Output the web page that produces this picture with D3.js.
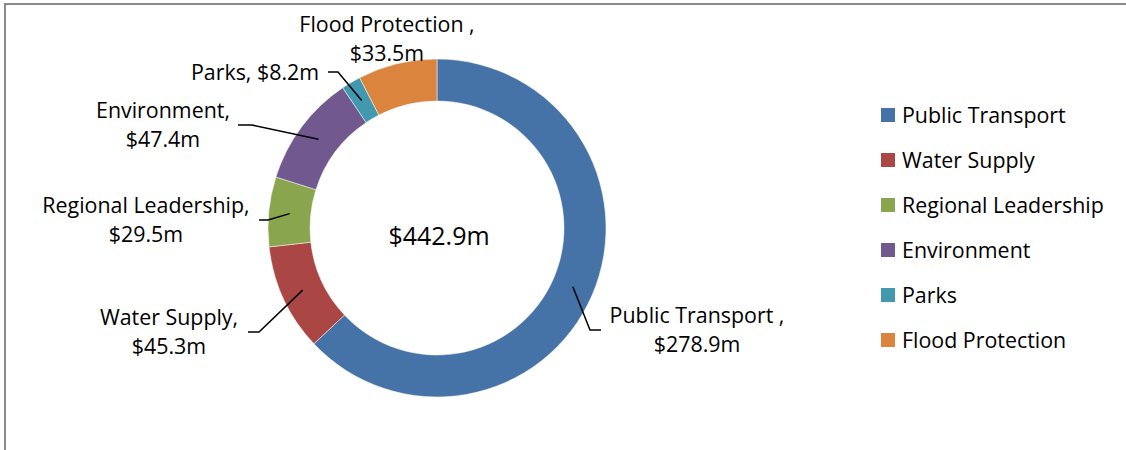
<!DOCTYPE html>
<html>
<head>
<meta charset="utf-8">
<script src="https://cdn.jsdelivr.net/npm/d3@7/dist/d3.min.js"></script>
<style>
  html, body { margin: 0; padding: 0; background: #fff; }
  svg { display: block; }
  text { font-family: "Open Sans", sans-serif; fill: #000; }
</style>
</head>
<body>
<svg id="chart" width="1126" height="450"></svg>
<script>
// Spending by activity ($m)
const categories = ["Public Transport ", "Water Supply", "Regional Leadership", "Environment", "Parks", "Flood Protection "];
const values = [278.9, 45.3, 29.5, 47.4, 8.2, 33.5];
const colors = ["#4572A7", "#AA4643", "#89A54E", "#71588F", "#4198AF", "#DB843D"];
const totalLabel = "$442.9m";

// Label placement for each slice: centre x, first baseline, leader elbow and end
const labelLayout = [
  { x: 697, y: 323, elbow: [590, 330], end: [601, 330] },
  { x: 169, y: 325, elbow: [259, 332], end: [248, 332] },
  { x: 146, y: 213, elbow: [268, 220], end: [259, 220] },
  { x: 163, y: 118, elbow: [252, 125], end: [238, 125] },
  { x: 255, y: 80, elbow: [338, 72], end: [328, 72], single: true },
  { x: 387, y: 32, elbow: null, end: null }
];

const svg = d3.select("#chart");
const W = 1126, H = 450;

// chart frame
svg.append("rect")
  .attr("x", 5).attr("y", 4)
  .attr("width", W + 20).attr("height", H + 20)
  .attr("fill", "none")
  .attr("stroke", "#8a8a8a")
  .attr("stroke-width", 2);

const cx = 437, cy = 228;
const outerR = 169, innerR = 127;

const pie = d3.pie().sort(null).value(d => d)
  .startAngle(0).endAngle(2 * Math.PI);
const arcs = pie(values);

const arc = d3.arc().innerRadius(innerR).outerRadius(outerR);
const g = svg.append("g").attr("transform", `translate(${cx},${cy})`);

g.selectAll("path.slice")
  .data(arcs)
  .join("path")
  .attr("class", "slice")
  .attr("d", arc)
  .attr("fill", (d, i) => colors[i])
  .attr("stroke", "#ffffff")
  .attr("stroke-width", 0.5);

// total in the hole
svg.append("text")
  .attr("x", 439).attr("y", 245)
  .attr("text-anchor", "middle")
  .style("font-size", "25px")
  .text(totalLabel);

// leader lines
const midR = (innerR + outerR) / 2;
arcs.forEach((a, i) => {
  const L = labelLayout[i];
  if (!L.elbow) return;
  const m = (a.startAngle + a.endAngle) / 2;
  const px = cx + midR * Math.sin(m);
  const py = cy - midR * Math.cos(m);
  svg.append("polyline")
    .attr("points", [[px, py], L.elbow, L.end].map(p => p.join(",")).join(" "))
    .attr("fill", "none")
    .attr("stroke", "#000")
    .attr("stroke-width", 1.5);
});

// data labels
const fmt = v => "$" + d3.format(".1f")(v) + "m";
arcs.forEach((a, i) => {
  const L = labelLayout[i];
  const t = svg.append("text")
    .attr("text-anchor", "middle")
    .style("font-size", "21.4px");
  if (L.single) {
    t.attr("x", L.x).attr("y", L.y).text(categories[i] + ", " + fmt(values[i]));
  } else {
    t.append("tspan").attr("x", L.x).attr("y", L.y).text(categories[i] + ",");
    t.append("tspan").attr("x", L.x).attr("y", L.y + 29).text(fmt(values[i]));
  }
});

// legend
const legend = svg.append("g");
categories.forEach((c, i) => {
  const y = 115 + i * 45;
  legend.append("rect")
    .attr("x", 881).attr("y", y - 7)
    .attr("width", 14).attr("height", 14)
    .attr("fill", colors[i]);
  legend.append("text")
    .attr("x", 902).attr("y", y + 7.5)
    .style("font-size", "21.4px")
    .text(c.trim());
});
</script>
</body>
</html>
